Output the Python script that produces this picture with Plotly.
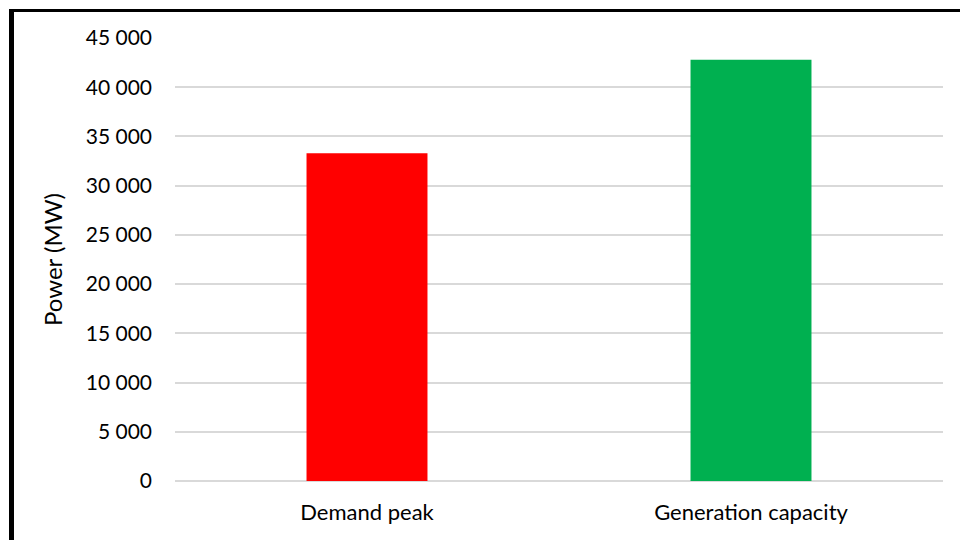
import plotly.graph_objects as go

categories = ["Demand peak", "Generation capacity"]
values = [33300, 42800]
colors = ["#FF0000", "#00B050"]

fig = go.Figure()
fig.add_trace(go.Bar(x=categories, y=values, marker=dict(color=colors, line=dict(width=0)),
                     width=0.315, hoverinfo="x+y"))

W, H = 960, 540
L, R, T, B = 175, 17, 38, 59
pw, ph = W - L - R, H - T - B

def px_x(p):
    return (p - L) / pw

def px_y(p):
    return (H - B - p) / ph

fig.update_layout(
    width=W, height=H,
    margin=dict(l=L, r=R, t=T, b=B, autoexpand=False),
    paper_bgcolor="white", plot_bgcolor="white",
    separators=". ",
    font=dict(family="Lato", size=21, color="#000000"),
    showlegend=False,
    xaxis=dict(showgrid=False, showline=False, zeroline=False, ticks="",
               ticklabelstandoff=16, tickfont=dict(size=22)),
    yaxis=dict(range=[0, 45000], dtick=5000, tickformat=",d", showgrid=True,
               gridcolor="#D9D9D9", gridwidth=1.5, zeroline=True, zerolinecolor="#D9D9D9",
               zerolinewidth=1.5, showline=False, ticks="", ticklabelstandoff=22,
               title=dict(text="Power (MW)", standoff=16, font=dict(size=24))),
    shapes=[
        dict(type="line", xref="paper", yref="paper", x0=px_x(11.5), x1=px_x(11.5),
             y0=px_y(9), y1=px_y(545), line=dict(color="black", width=5)),
        dict(type="line", xref="paper", yref="paper", x0=px_x(9), x1=px_x(965),
             y0=px_y(10.5), y1=px_y(10.5), line=dict(color="black", width=3)),
    ],
)

fig.write_html("out.html")
